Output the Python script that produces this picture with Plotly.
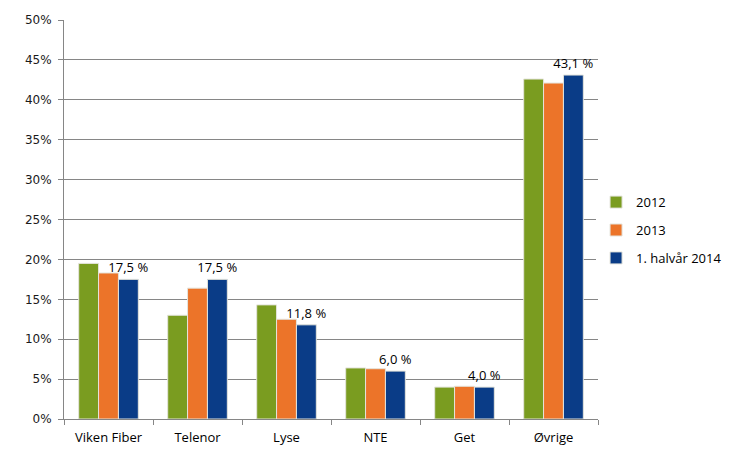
"""
Markedsandeler fiber - grouped bar chart
"""

import plotly.graph_objects as go

categories = ["Viken Fiber", "Telenor", "Lyse", "NTE", "Get", "Øvrige"]
share_2012 = [19.5, 13.0, 14.3, 6.4, 4.0, 42.6]
share_2013 = [18.3, 16.4, 12.5, 6.3, 4.1, 42.1]
share_2014h1 = [17.5, 17.5, 11.8, 6.0, 4.0, 43.1]
series_names = ["2012", "2013", "1. halvår 2014"]
y_ticks = [0, 5, 10, 15, 20, 25, 30, 35, 40, 45, 50]

colors = ["#7A9C20", "#EC7429", "#0A3C87"]


def fmt_label(v):
    return f"{v:.1f}".replace(".", ",") + " %"


fig = go.Figure()

for name, values, color in zip(series_names, [share_2012, share_2013, share_2014h1], colors):
    is_last = name == series_names[-1]
    fig.add_trace(
        go.Bar(
            x=categories,
            y=values,
            name=name,
            legendgroup=name,
            marker=dict(color=color, line=dict(color="#E4E4DC", width=1)),
            text=[fmt_label(v) for v in values] if is_last else None,
            textposition="outside" if is_last else "none",
            textfont=dict(family="Open Sans, sans-serif", size=13, color="#000000"),
            constraintext="none",
            cliponaxis=False,
        )
    )

# the page body adds an 8px offset, so the figure is sized 8px smaller
fig.update_layout(
    width=726,
    height=447,
    margin=dict(l=56, r=136, t=12, b=36, autoexpand=False),
    plot_bgcolor="white",
    paper_bgcolor="white",
    barmode="group",
    bargap=0.33,
    bargroupgap=0,
    font=dict(family="Open Sans, sans-serif", size=13, color="#000000"),
    legend=dict(
        xref="container",
        yref="container",
        x=0.81,
        y=0.503,
        xanchor="left",
        yanchor="middle",
        font=dict(size=13),
        traceorder="grouped",
        tracegroupgap=8,
        itemwidth=30,
    ),
    showlegend=True,
)

fig.update_xaxes(
    automargin=False,
    showline=True,
    linecolor="#868686",
    linewidth=1,
    ticks="outside",
    tickson="boundaries",
    ticklen=5,
    tickcolor="#868686",
    ticklabelstandoff=6,
    showgrid=False,
    tickfont=dict(family="Open Sans, sans-serif", size=13),
)

fig.update_yaxes(
    automargin=False,
    range=[0, 50],
    tickvals=y_ticks,
    ticktext=[f"{t}%" for t in y_ticks],
    showline=True,
    linecolor="#868686",
    linewidth=1,
    ticks="outside",
    ticklen=5,
    tickcolor="#868686",
    ticklabelstandoff=4,
    showgrid=True,
    gridcolor="#868686",
    gridwidth=1,
    zeroline=False,
    tickfont=dict(family="DejaVu Sans, sans-serif", size=12, color="#1a1a1a"),
)

fig.write_html("out.html")
